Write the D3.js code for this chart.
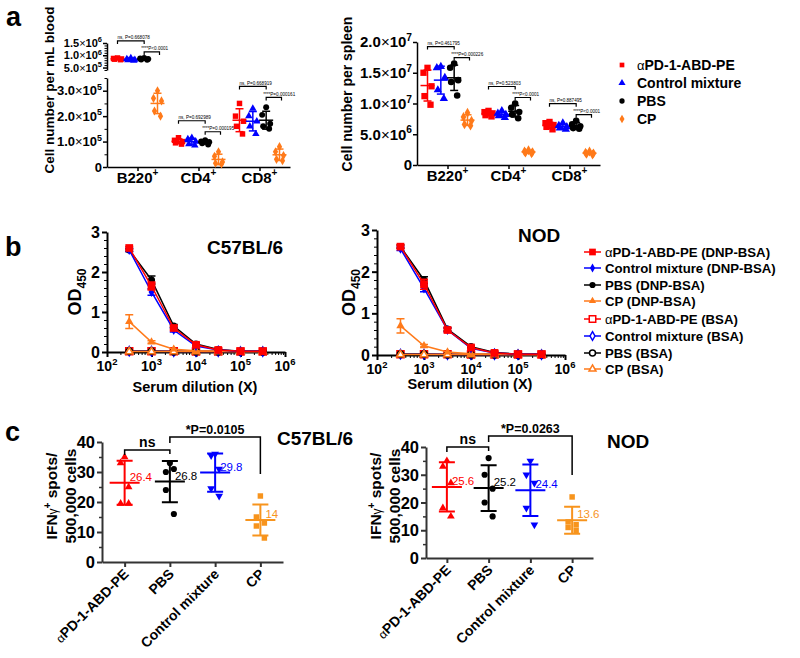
<!DOCTYPE html>
<html><head><meta charset="utf-8">
<script src="https://cdn.jsdelivr.net/npm/d3@7/dist/d3.min.js"></script>
<style>
html,body{margin:0;padding:0;background:#fff;}
svg{display:block;font-family:"Liberation Sans",Arial,Helvetica,sans-serif;font-weight:bold;}
</style></head><body>
<svg width="800" height="658"></svg>
<script>
// ================= DATA =================
// Panel a
const groupsA = ["αPD-1-ABD-PE", "Control mixture", "PBS", "CP"];
const cellTypes = ["B220", "CD4", "CD8"];
const bloodB220 = [[8.9e5, 8.7e5, 8.5e5, 8.4e5, 8.2e5], [8.9e5, 8.5e5, 8.2e5, 8.0e5, 7.8e5], [8.9e5, 8.7e5, 8.5e5, 8.3e5, 8.2e5], [3.0e5, 2.7e5, 2.6e5, 2.2e5, 2.0e5]];
const bloodCD4 = [[1.15e5, 1.05e5, 1.0e5, 0.95e5, 0.9e5], [1.15e5, 1.1e5, 1.0e5, 0.9e5, 0.85e5], [1.05e5, 1.0e5, 0.98e5, 0.93e5, 0.88e5], [0.6e5, 0.42e5, 0.2e5, 0.15e5, 0.12e5]];
const bloodCD8 = [[2.5e5, 2.0e5, 1.8e5, 1.6e5, 1.3e5], [2.3e5, 2.0e5, 1.8e5, 1.6e5, 1.3e5], [2.35e5, 2.05e5, 1.7e5, 1.6e5, 1.5e5], [0.8e5, 0.6e5, 0.45e5, 0.3e5, 0.25e5]];
const bloodNsP = ["ns, P=0.668078", "ns, P=0.692989", "ns, P=0.668919"];
const bloodSigP = ["****P<0.0001", "****P=0.000195", "****P=0.000161"];
const bloodTicksLow = [0, 1e5, 2e5, 3e5];
const bloodTicksHigh = [5e5, 1e6, 1.5e6];

const spleenB220 = [[1.58e7, 1.5e7, 1.28e7, 1.12e7, 0.98e7], [1.6e7, 1.58e7, 1.42e7, 1.22e7, 1.08e7], [1.65e7, 1.58e7, 1.38e7, 1.35e7, 1.13e7], [8.5e6, 7.8e6, 7.2e6, 6.6e6, 6.4e6]];
const spleenCD4 = [[8.8e6, 8.6e6, 8.4e6, 8.1e6, 7.9e6], [8.8e6, 8.4e6, 8.2e6, 8.0e6, 7.7e6], [1.0e7, 9.3e6, 8.6e6, 8.2e6, 7.6e6], [2.4e6, 2.2e6, 2.1e6, 2.0e6, 1.9e6]];
const spleenCD8 = [[7.0e6, 6.8e6, 6.5e6, 6.2e6, 5.8e6], [6.8e6, 6.4e6, 6.2e6, 6.0e6, 5.8e6], [7.2e6, 6.6e6, 6.3e6, 6.0e6, 5.9e6], [2.2e6, 2.0e6, 1.9e6, 1.8e6, 1.7e6]];
const spleenNsP = ["ns, P=0.461795", "ns, P=0.523803", "ns, P=0.887495"];
const spleenSigP = ["****P=0.000226", "****P<0.0001", "****P<0.0001"];
const spleenTicks = [0, 5e6, 1e7, 1.5e7, 2e7];

// Panel b
const seriesB = ["αPD-1-ABD-PE (DNP-BSA)", "Control mixture (DNP-BSA)", "PBS (DNP-BSA)", "CP (DNP-BSA)",
                 "αPD-1-ABD-PE (BSA)", "Control mixture (BSA)", "PBS (BSA)", "CP (BSA)"];
const dilutions = [316, 1000, 3162, 10000, 31623, 100000, 316228];
const c57DNP = [[2.60, 1.65, 0.60, 0.18, 0.05, 0.02, 0.02], [2.55, 1.50, 0.55, 0.15, 0.05, 0.02, 0.02], [2.55, 1.80, 0.65, 0.20, 0.06, 0.02, 0.02], [0.76, 0.25, 0.07, 0.03, 0.02, 0.01, 0.01]];
const c57DNPerr = [[0.04, 0.10, 0.05, 0.03, 0.01, 0.01, 0.01], [0.04, 0.08, 0.05, 0.02, 0.01, 0.01, 0.01], [0.04, 0.10, 0.04, 0.03, 0.01, 0.01, 0.01], [0.17, 0.03, 0.02, 0.01, 0.01, 0.01, 0.01]];
const c57BSA = [[0.02, 0.02, 0.02, 0.01, 0.01, 0.01, 0.01], [0.02, 0.02, 0.01, 0.01, 0.01, 0.01, 0.01], [0.02, 0.02, 0.01, 0.01, 0.01, 0.01, 0.01], [0.01, 0.01, 0.01, 0.01, 0.01, 0.01, 0.01]];
const nodDNP = [[2.60, 1.70, 0.60, 0.18, 0.05, 0.02, 0.02], [2.55, 1.60, 0.60, 0.16, 0.05, 0.02, 0.02], [2.60, 1.80, 0.62, 0.20, 0.06, 0.02, 0.02], [0.70, 0.22, 0.07, 0.03, 0.02, 0.01, 0.01]];
const nodDNPerr = [[0.04, 0.12, 0.04, 0.03, 0.01, 0.01, 0.01], [0.04, 0.08, 0.04, 0.02, 0.01, 0.01, 0.01], [0.04, 0.08, 0.04, 0.03, 0.01, 0.01, 0.01], [0.17, 0.03, 0.02, 0.01, 0.01, 0.01, 0.01]];
const nodBSA = [[0.02, 0.02, 0.02, 0.01, 0.01, 0.01, 0.01], [0.02, 0.02, 0.01, 0.01, 0.01, 0.01, 0.01], [0.02, 0.02, 0.01, 0.01, 0.01, 0.01, 0.01], [0.01, 0.01, 0.01, 0.01, 0.01, 0.01, 0.01]];
const odTicks = [0, 1, 2, 3];
const dilTicks = [1e2, 1e3, 1e4, 1e5, 1e6];

// Panel c
const groupsC = ["αPD-1-ABD-PE", "PBS", "Control mixture", "CP"];
const c57Spots = [[35, 33, 25, 19.5, 19.5], [33, 30, 31, 24, 16], [36, 35.5, 31, 24.5, 22], [22, 15, 13, 12, 8]];
const nodSpots = [[35, 33, 27, 18, 15], [36, 30, 25, 20, 15], [35, 30, 27, 18, 12], [22, 13, 12, 11, 10]];
const c57Pval = "*P=0.0105";
const nodPval = "*P=0.0263";
const spotTicks = [0, 10, 20, 30, 40];

// ================= DRAWING =================
const svg = d3.select("svg");
const RED = "#ff0000", BLUE = "#0000ff", BLACK = "#000000", ORANGE = "#ff7a1a";
const colorsA = [RED, BLUE, BLACK, ORANGE];
const colorsC = [RED, BLACK, BLUE, "#f7941d"];
const sym = (type, size) => d3.symbol().type(type).size(size)();

function styleAxis(sel, sw) {
  sel.selectAll(".domain").attr("stroke", "#000").attr("stroke-width", sw);
  sel.selectAll(".tick line").attr("stroke", "#000").attr("stroke-width", sw);
}
function sciText(g, x, y, v, size) {
  const t = g.append("text").attr("x", x).attr("y", y).attr("text-anchor", "end")
    .attr("font-size", size);
  if (v === 0) { t.text("0"); return; }
  const e = Math.floor(Math.log10(v) + 1e-9);
  const m = (v / Math.pow(10, e)).toFixed(1);
  t.append("tspan").text(m);
  t.append("tspan").attr("font-weight", "normal").text("×");
  t.append("tspan").text("10");
  t.append("tspan").attr("font-size", size * 0.68).attr("dy", -size * 0.42).text(e);
}
function bracket(g, x1, x2, y, d1, d2, sw) {
  g.append("path").attr("d", `M${x1},${y + d1}V${y}H${x2}V${y + d2}`)
    .attr("fill", "none").attr("stroke", "#000").attr("stroke-width", sw);
}
function letter(t, x, y) {
  svg.append("text").attr("x", x).attr("y", y).attr("font-size", 27).text(t);
}

// ---------- Panel a ----------
const symA = [d3.symbolSquare, d3.symbolTriangle, d3.symbolCircle, d3.symbolDiamond];
const jitA = [0, -4, 4, -3, 3];

function panelA(cfg) {
  const g = svg.append("g");
  const xs = d3.scalePoint().domain(cellTypes).range([cfg.axX, cfg.axEnd]).padding(0.5);
  const off = d3.scalePoint().domain(groupsA).range([-20, 20]);
  const scaleFor = v => (cfg.yHigh && v >= cfg.split) ? cfg.yHigh : cfg.yLow;
  const yOf = v => scaleFor(v)(v);

  const segs = [[cfg.yLow, cfg.ticksLow]];
  if (cfg.yHigh) segs.push([cfg.yHigh, cfg.ticksHigh]);
  segs.forEach(([sc, tk], si) => {
    const a = g.append("g").attr("transform", `translate(${cfg.axX},0)`)
      .call(d3.axisLeft(sc).tickValues(tk).tickFormat("").tickSize(4).tickSizeOuter(0));
    styleAxis(a, 1.5);
    if (cfg.minor) {
      const mn = sc.ticks(si === 0 ? 7 : 11).filter(v => !tk.includes(v));
      const b = g.append("g").attr("transform", `translate(${cfg.axX},0)`)
        .call(d3.axisLeft(sc).tickValues(mn).tickFormat("").tickSize(2.5).tickSizeOuter(0));
      b.select(".domain").remove();
      styleAxis(b, 1);
    }
    const fs = si === 0 ? cfg.tickFont : cfg.tickFontHigh;
    tk.forEach(v => sciText(g, cfg.axX - 5, sc(v) + fs * 0.36, v, fs));
  });
  const xa = g.append("g").attr("transform", `translate(0,${cfg.yLow.range()[0]})`)
    .call(d3.axisBottom(xs).tickFormat("").tickSize(4).tickSizeOuter(0));
  styleAxis(xa, 1.5);
  cellTypes.forEach(c => {
    const t = g.append("text").attr("x", xs(c)).attr("y", cfg.yLow.range()[0] + 16)
      .attr("text-anchor", "middle").attr("font-size", 15);
    t.append("tspan").text(c);
    t.append("tspan").attr("font-size", 10).attr("dy", -7).text("+");
  });
  g.append("text").attr("transform", `translate(${cfg.labX},${cfg.labY}) rotate(-90)`)
    .attr("text-anchor", "middle").attr("font-size", cfg.labFont).text(cfg.label);

  cfg.data.forEach((grp, ci) => {
    const cx = xs(cellTypes[ci]);
    grp.forEach((vals, gi) => {
      const x = cx + off(groupsA[gi]);
      const col = colorsA[gi];
      vals.forEach((v, i) => {
        g.append("path").attr("d", sym(symA[gi], cfg.symSize[gi]))
          .attr("transform", `translate(${x + jitA[i]},${yOf(v)})`).attr("fill", col);
      });
      const m = d3.mean(vals), sd = d3.deviation(vals);
      const sc = scaleFor(m);
      const ln = (x1, y1, x2, y2) => g.append("line").attr("x1", x1).attr("y1", y1).attr("x2", x2).attr("y2", y2)
        .attr("stroke", col).attr("stroke-width", 1.5);
      ln(x, sc(m - sd), x, sc(m + sd));
      ln(x - 4, sc(m - sd), x + 4, sc(m - sd));
      ln(x - 4, sc(m + sd), x + 4, sc(m + sd));
      ln(x - 7, sc(m), x + 7, sc(m));
    });
    const top = d3.min(grp.slice(0, 3).flat().map(yOf));
    const b1 = top - 17, b2 = b1 + 11;
    const xr = cx + off(groupsA[0]), xk = cx + off(groupsA[2]), xo = cx + off(groupsA[3]);
    bracket(g, xr, xk, b1, 3, 3, 1.2);
    bracket(g, xk, xo + 2, b2, 3, 3, 1.2);
    g.append("text").attr("x", xr).attr("y", b1 - 1.5).attr("font-size", 4.6).attr("font-weight", "normal").text(cfg.nsP[ci]);
    g.append("text").attr("x", xk - 3).attr("y", b2 - 1.5).attr("font-size", 4.6).attr("font-weight", "normal").text(cfg.sigP[ci]);
  });
}

panelA({
  axX: 107, axEnd: 290,
  yLow: d3.scaleLinear().domain([0, 3.5e5]).range([167, 78]),
  yHigh: d3.scaleLinear().domain([4e5, 1.5e6]).range([70, 43]),
  split: 4e5, ticksLow: bloodTicksLow, ticksHigh: bloodTicksHigh, minor: true,
  tickFont: 13, tickFontHigh: 11, labX: 54, labY: 90, labFont: 13.5, label: "Cell number per mL blood",
  data: [bloodB220, bloodCD4, bloodCD8], nsP: bloodNsP, sigP: bloodSigP,
  symSize: [30, 24, 28, 24]
});
panelA({
  axX: 417, axEnd: 600,
  yLow: d3.scaleLinear().domain([0, 2e7]).range([165, 42]),
  yHigh: null, split: Infinity, ticksLow: spleenTicks, minor: false,
  tickFont: 15, tickFontHigh: 15, labX: 352, labY: 94, labFont: 14, label: "Cell number per spleen",
  data: [spleenB220, spleenCD4, spleenCD8], nsP: spleenNsP, sigP: spleenSigP,
  symSize: [40, 30, 34, 28]
});

// legend a
groupsA.forEach((name, i) => {
  const y = 65 + i * 18;
  svg.append("path").attr("d", sym(symA[i], 22)).attr("transform", `translate(622,${y})`).attr("fill", colorsA[i]);
  const t = svg.append("text").attr("x", 637).attr("y", y + 5).attr("font-size", 14);
  if (name.startsWith("α")) {
    t.append("tspan").attr("font-weight", "normal").attr("font-size", 13).text("α");
    t.append("tspan").text(name.slice(1));
  } else t.text(name);
});
letter("a", 6, 26);

// ---------- Panel b ----------
const symB = [d3.symbolSquare, d3.symbolDiamond, d3.symbolCircle, d3.symbolTriangle];
const sizeB = [60, 30, 40, 30];
const colorsB = [RED, BLUE, BLACK, ORANGE];

function panelB(cfg) {
  const g = svg.append("g");
  const x = d3.scaleLog().domain([1e2, 1e6]).range([cfg.x0, cfg.x1]);
  const y = d3.scaleLinear().domain([0, 3]).range([cfg.y0, cfg.y1]);
  const xa = g.append("g").attr("transform", `translate(0,${cfg.y0})`)
    .call(d3.axisBottom(x).tickValues(dilTicks).tickFormat("").tickSize(5).tickSizeOuter(0));
  styleAxis(xa, 2);
  const xm = g.append("g").attr("transform", `translate(0,${cfg.y0})`)
    .call(d3.axisBottom(x).tickValues(x.ticks().filter(v => !dilTicks.includes(v))).tickFormat("").tickSize(3).tickSizeOuter(0));
  xm.select(".domain").remove(); styleAxis(xm, 1);
  const ya = g.append("g").attr("transform", `translate(${cfg.x0},0)`)
    .call(d3.axisLeft(y).tickValues(odTicks).tickFormat("").tickSize(5).tickSizeOuter(0));
  styleAxis(ya, 2);
  const ym = g.append("g").attr("transform", `translate(${cfg.x0},0)`)
    .call(d3.axisLeft(y).tickValues(y.ticks(15).filter(v => !odTicks.includes(v))).tickFormat("").tickSize(3).tickSizeOuter(0));
  ym.select(".domain").remove(); styleAxis(ym, 1);
  odTicks.forEach(v => g.append("text").attr("x", cfg.x0 - 7).attr("y", y(v) + 6).attr("text-anchor", "end").attr("font-size", 16).text(v));
  dilTicks.forEach(v => {
    const t = g.append("text").attr("x", x(v)).attr("y", cfg.y0 + 19).attr("text-anchor", "middle").attr("font-size", 14);
    t.append("tspan").text("10");
    t.append("tspan").attr("font-size", 9.5).attr("dy", -6).text(Math.round(Math.log10(v)));
  });
  const yl = g.append("text").attr("transform", `translate(${cfg.labX},${(cfg.y0 + cfg.y1) / 2}) rotate(-90)`)
    .attr("text-anchor", "middle").attr("font-size", 18);
  yl.append("tspan").text("OD");
  yl.append("tspan").attr("font-size", 12).attr("dy", 5).text("450");
  g.append("text").attr("x", (cfg.x0 + cfg.x1) / 2 - 1).attr("y", cfg.xLabY).attr("text-anchor", "middle").attr("font-size", 14.5).text("Serum dilution (X)");
  g.append("text").attr("x", cfg.titleX).attr("y", cfg.titleY).attr("font-size", 19).text(cfg.title);

  const line = d3.line().x((d, i) => x(dilutions[i])).y(d => y(d));
  [0, 1, 2, 3].forEach(si => {
    const vals = cfg.bsa[si];
    g.append("path").attr("d", line(vals)).attr("fill", "none").attr("stroke", colorsB[si]).attr("stroke-width", 1.5);
    vals.forEach((v, i) => g.append("path").attr("d", sym(symB[si], sizeB[si] * 0.8))
      .attr("transform", `translate(${x(dilutions[i])},${y(v)})`)
      .attr("fill", "#fff").attr("stroke", colorsB[si]).attr("stroke-width", 1.6));
  });
  [3, 2, 1, 0].forEach(si => {
    const vals = cfg.dnp[si], errs = cfg.err[si], col = colorsB[si];
    g.append("path").attr("d", line(vals)).attr("fill", "none").attr("stroke", col).attr("stroke-width", 1.5);
    vals.forEach((v, i) => {
      const xx = x(dilutions[i]);
      if (errs[i] > 0.02) {
        const lo = y(v - errs[i]), hi = y(v + errs[i]);
        g.append("path").attr("d", `M${xx},${lo}V${hi}M${xx - 4},${lo}H${xx + 4}M${xx - 4},${hi}H${xx + 4}`)
          .attr("stroke", col).attr("stroke-width", 1.5).attr("fill", "none");
      }
      g.append("path").attr("d", sym(symB[si], sizeB[si])).attr("transform", `translate(${xx},${y(v)})`).attr("fill", col);
    });
  });
}

panelB({ x0: 107, x1: 285, y0: 352, y1: 232, labX: 81, xLabY: 392, title: "C57BL/6", titleX: 207, titleY: 254,
  dnp: c57DNP, err: c57DNPerr, bsa: c57BSA });
panelB({ x0: 377, x1: 565, y0: 355, y1: 230, labX: 355, xLabY: 389, title: "NOD", titleX: 518, titleY: 242,
  dnp: nodDNP, err: nodDNPerr, bsa: nodBSA });

const legRows = [252, 268, 285, 301, 319, 336, 353, 369];
seriesB.forEach((name, i) => {
  const y = legRows[i], si = i % 4, open = i >= 4, col = colorsB[si];
  svg.append("line").attr("x1", 584).attr("x2", 601).attr("y1", y).attr("y2", y).attr("stroke", col).attr("stroke-width", 1.5);
  svg.append("path").attr("d", sym(symB[si], open ? sizeB[si] * 0.7 : sizeB[si] * 0.75))
    .attr("transform", `translate(592.5,${y})`)
    .attr("fill", open ? "#fff" : col).attr("stroke", open ? col : "none").attr("stroke-width", 1.5);
  const t = svg.append("text").attr("x", 605).attr("y", y + 5).attr("font-size", 13.2);
  if (name.startsWith("α")) {
    t.append("tspan").attr("font-weight", "normal").attr("font-size", 13).text("α");
    t.append("tspan").text(name.slice(1));
  } else t.text(name);
});
letter("b", 5, 256);

// ---------- Panel c ----------
const symC = [d3.symbolTriangle, d3.symbolCircle, d3.symbolTriangle, d3.symbolSquare];
const rotC = [0, 0, 180, 0];
const sizeC = [26, 30, 26, 30];
const jitC = [0, -4, 4, -4, 4];

function panelC(cfg) {
  const g = svg.append("g");
  const x = d3.scalePoint().domain(groupsC).range([cfg.x0, cfg.x1]).padding(0.5);
  const y = d3.scaleLinear().domain([0, 40]).range([cfg.y0, cfg.y1]);
  const xa = g.append("g").attr("transform", `translate(0,${cfg.y0})`)
    .call(d3.axisBottom(x).tickFormat("").tickSize(5).tickSizeOuter(0));
  xa.selectAll(".domain,.tick line").attr("stroke", "#333").attr("stroke-width", 2);
  const ya = g.append("g").attr("transform", `translate(${cfg.x0},0)`)
    .call(d3.axisLeft(y).tickValues(spotTicks).tickFormat("").tickSize(5).tickSizeOuter(0));
  ya.selectAll(".domain,.tick line").attr("stroke", "#333").attr("stroke-width", 2);
  const ym = g.append("g").attr("transform", `translate(${cfg.x0},0)`)
    .call(d3.axisLeft(y).tickValues(y.ticks(8).filter(v => !spotTicks.includes(v))).tickFormat("").tickSize(3).tickSizeOuter(0));
  ym.select(".domain").remove(); ym.selectAll(".tick line").attr("stroke", "#333").attr("stroke-width", 1.5);
  spotTicks.forEach(v => g.append("text").attr("x", cfg.x0 - 7).attr("y", y(v) + 6).attr("text-anchor", "end").attr("font-size", 16.5).text(v));
  groupsC.forEach(name => {
    const t = g.append("text").attr("transform", `translate(${x(name) + 5},${cfg.y0 + 13}) rotate(-45)`)
      .attr("text-anchor", "end").attr("font-size", 14);
    if (name.startsWith("α")) {
      t.append("tspan").attr("font-weight", "normal").attr("font-size", 12).text("α");
      t.append("tspan").text(name.slice(1));
    } else t.text(name);
  });
  const cy = cfg.labY;
  const l1 = g.append("text").attr("transform", `translate(${cfg.labX1},${cy}) rotate(-90)`).attr("text-anchor", "middle").attr("font-size", 15.5);
  l1.append("tspan").text("IFN");
  l1.append("tspan").attr("font-weight", "normal").attr("font-size", 12).text("γ");
  l1.append("tspan").attr("font-size", 10).attr("dy", -6).text("+");
  l1.append("tspan").attr("dy", 6).text(" spots/");
  g.append("text").attr("transform", `translate(${cfg.labX2},${cy}) rotate(-90)`).attr("text-anchor", "middle").attr("font-size", 15.5).text("500,000 cells");
  g.append("text").attr("x", cfg.titleX).attr("y", cfg.titleY).attr("font-size", 19).text(cfg.title);

  cfg.data.forEach((vals, gi) => {
    const cx = x(groupsC[gi]), col = colorsC[gi];
    vals.forEach((v, i) => g.append("path").attr("d", sym(symC[gi], sizeC[gi]))
      .attr("transform", `translate(${cx + jitC[i]},${y(v)}) rotate(${rotC[gi]})`).attr("fill", col));
    const m = d3.mean(vals), sd = d3.deviation(vals);
    g.append("path").attr("d", `M${cx},${y(m - sd)}V${y(m + sd)}M${cx - 8},${y(m - sd)}H${cx + 8}M${cx - 8},${y(m + sd)}H${cx + 8}M${cx - 15},${y(m)}H${cx + 15}`)
      .attr("stroke", col).attr("stroke-width", 2).attr("fill", "none");
    g.append("text").attr("x", cx + 5).attr("y", y(m) - 2).attr("font-size", 11.5).attr("font-weight", "normal")
      .attr("fill", col).text(Math.round(m * 10) / 10);
  });
  const xa0 = x(groupsC[0]), xa1 = x(groupsC[1]), xa3 = x(groupsC[3]);
  bracket(g, xa0, xa1, cfg.nsY, 5, 4, 1.5);
  g.append("text").attr("x", (xa0 + xa1) / 2).attr("y", cfg.nsY - 3).attr("text-anchor", "middle").attr("font-size", 14).text("ns");
  const cpTop = y(d3.max(cfg.data[3])) - 22;
  bracket(g, xa1, xa3, cfg.pY, 6, cpTop - cfg.pY, 1.5);
  g.append("text").attr("x", (xa1 + xa3) / 2).attr("y", cfg.pY - 3).attr("text-anchor", "middle").attr("font-size", 12.5).text(cfg.pval);
}

panelC({ x0: 102, x1: 283, y0: 562, y1: 442, labX1: 57, labX2: 76, labY: 496, title: "C57BL/6", titleX: 277, titleY: 445,
  nsY: 450, pY: 437, pval: c57Pval, data: c57Spots });
panelC({ x0: 426, x1: 593, y0: 558, y1: 447, labX1: 381, labX2: 400, labY: 496, title: "NOD", titleX: 607, titleY: 448,
  nsY: 447, pY: 436, pval: nodPval, data: nodSpots });
letter("c", 5, 441);
</script>
</body></html>
